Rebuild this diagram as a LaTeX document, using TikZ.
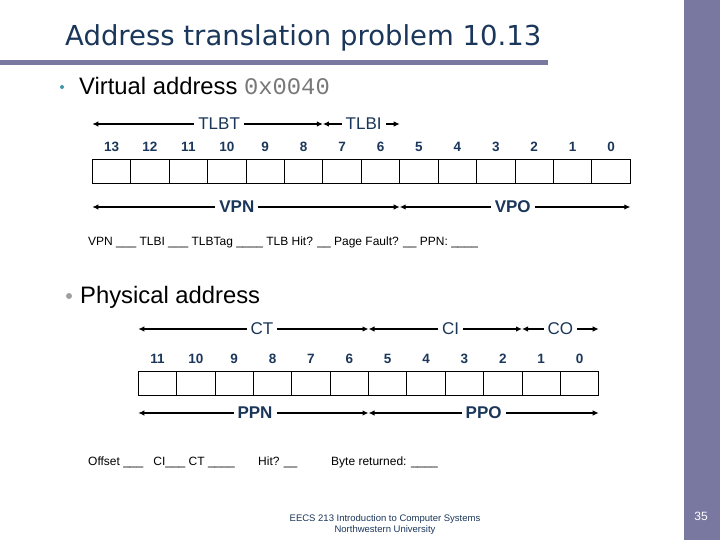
\documentclass[tikz,border=0pt]{standalone}
\usepackage{fontspec}
\setmainfont{Liberation Sans}
\setmonofont{Liberation Mono}
\newfontfamily\titlefont{DejaVu Sans}
\usetikzlibrary{arrows.meta}
\definecolor{slidenavy}{RGB}{26,54,90}
\definecolor{slidebar}{RGB}{120,120,160}
\definecolor{bulletteal}{RGB}{64,150,170}
\definecolor{hexgray}{RGB}{120,120,120}

\tikzset{
  bitcell/.style={draw, line width=0.8pt},
  bitnum/.style={font=\bfseries\fontsize{13.5}{15}\selectfont, text=slidenavy},
  span/.style={{Latex[length=6pt,width=5.5pt]}-{Latex[length=6pt,width=5.5pt]}, line width=1.9pt},
  spanname/.style={fill=white, inner sep=4pt, text=slidenavy, font=\fontsize{17}{19}\selectfont},
  spanbold/.style={spanname, font=\bfseries\fontsize{17}{19}\selectfont},
  quiz/.style={anchor=base west, inner sep=0pt, font=\fontsize{12}{14}\selectfont},
}

\begin{document}
\begin{tikzpicture}[x=1pt,y=-1pt]
  \useasboundingbox (0,0) rectangle (720,540);
  % slide frame
  \fill[slidebar] (684,0) rectangle (720,540);
  \fill[slidebar] (0,60) rectangle (548,65);
  \node[anchor=base west, inner sep=0pt, text=slidenavy, font=\titlefont\fontsize{27.5}{30}\selectfont] (title) at (65,46) {Address translation problem 10.13};
  \node[circle, fill=bulletteal, inner sep=0pt, minimum size=4pt] (bulletv) at (62,87) {};
  \node[anchor=base west, inner sep=0pt, font=\fontsize{23.8}{26}\selectfont] (vaddr) at (79,95) {Virtual address \textcolor{hexgray}{\ttfamily 0x0040}};

  % virtual address bits
  \foreach \k in {0,...,14}{
    \coordinate (vt\k) at ({92.3+38.43*\k},124);
    \coordinate (vb\k) at ({92.3+38.43*\k},207);
  }
  \foreach \k in {0,...,13}{
    \pgfmathtruncatemacro{\bit}{13-\k}
    \draw[bitcell] ({92.3+38.43*\k},159.5) rectangle ({92.3+38.43*(\k+1)},183.5);
    \node[bitnum] (vbit\bit) at ({92.3+38.43*(\k+0.5)},147) {\bit};
  }
  \draw[span] (vt0) -- (vt6) node[spanname, pos=0.55] (tlbt) {TLBT};
  \draw[span] (vt6) -- (vt8) node[spanname, pos=0.53] (tlbi) {TLBI};
  \draw[span] (vb0) -- (vb8) node[spanbold, pos=0.47] (vpn) {VPN};
  \draw[span] (vb8) -- (vb14) node[spanbold, pos=0.49] (vpo) {VPO};
  \node[quiz] (vquiz) at (88,245) {VPN \_\_\_ TLBI \_\_\_ TLBTag \_\_\_\_ TLB Hit? \_\_ Page Fault? \_\_ PPN: \_\_\_\_};

  \node[circle, fill=gray!75, inner sep=0pt, minimum size=6pt] (bulletp) at (69,296) {};
  \node[anchor=base west, inner sep=0pt, font=\fontsize{23.8}{26}\selectfont] (paddr) at (80,303) {Physical address};

  % physical address bits
  \foreach \k in {0,...,12}{
    \coordinate (pt\k) at ({138.3+38.37*\k},329);
    \coordinate (pb\k) at ({138.3+38.37*\k},413);
  }
  \foreach \k in {0,...,11}{
    \pgfmathtruncatemacro{\bit}{11-\k}
    \draw[bitcell] ({138.3+38.37*\k},371.3) rectangle ({138.3+38.37*(\k+1)},395.3);
    \node[bitnum] (pbit\bit) at ({138.3+38.37*(\k+0.5)},359) {\bit};
  }
  \draw[span] (pt0) -- (pt6) node[spanname, pos=0.537] (ct) {CT};
  \draw[span] (pt6) -- (pt10) node[spanname, pos=0.535] (ci) {CI};
  \draw[span] (pt10) -- (pt12) node[spanname, pos=0.5] (co) {CO};
  \draw[span] (pb0) -- (pb6) node[spanbold, pos=0.507] (ppn) {PPN};
  \draw[span] (pb6) -- (pb12) node[spanbold, pos=0.5] (ppo) {PPO};

  \node[quiz] (cquiz) at (88,465) {Offset \_\_\_\hspace{10pt}CI\_\_\_ CT \_\_\_\_};
  \node[quiz] (hquiz) at (258,465) {Hit? \_\_};
  \node[quiz] (bquiz) at (331,465) {Byte returned: \_\_\_\_};

  \node[align=center, text=slidenavy, font=\fontsize{9.5}{11}\selectfont] (footer) at (385,524.5) {EECS 213 Introduction to Computer Systems\\Northwestern University};
  \node[text=white, font=\fontsize{12}{14}\selectfont] (pagenum) at (701,516) {35};
\end{tikzpicture}
\end{document}
